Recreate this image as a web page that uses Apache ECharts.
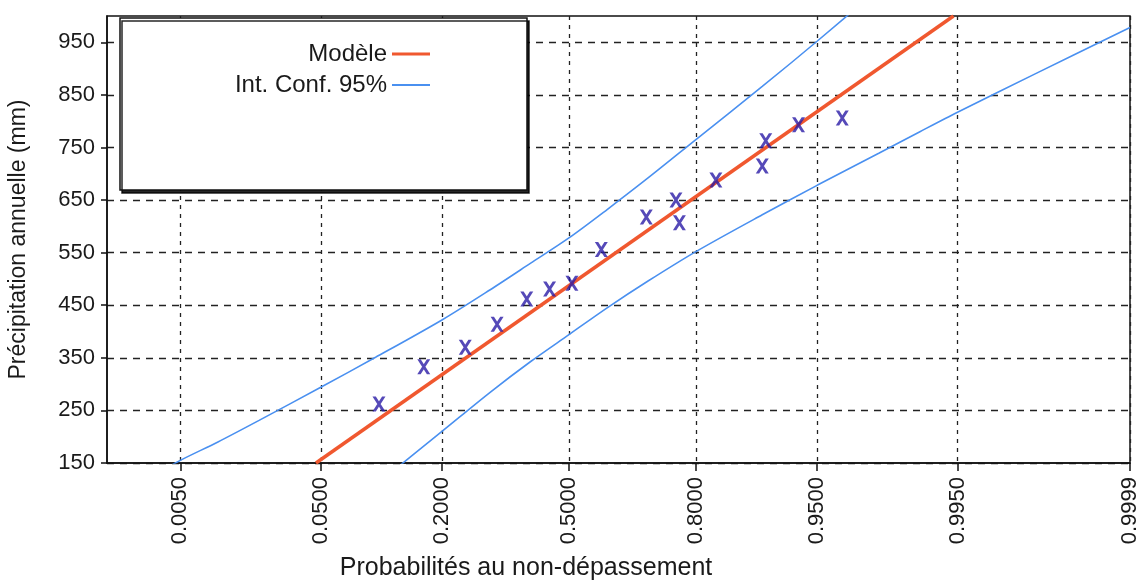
<!DOCTYPE html>
<html>
<head>
<meta charset="utf-8">
<script src="https://cdn.jsdelivr.net/npm/echarts@6/dist/echarts.min.js"></script>
<style>
  html, body { margin: 0; padding: 0; background: #fff; }
  #chart { width: 1140px; height: 581px; }
</style>
</head>
<body>
<div id="chart"></div>
<script>
// probability axis: ticks are non-exceedance probabilities
const probTicks = [0.005, 0.05, 0.2, 0.5, 0.8, 0.95, 0.995, 0.9999]
const probLabels = ['0.0050', '0.0500', '0.2000', '0.5000', '0.8000', '0.9500', '0.9950', '0.9999']
const probMin = 0.0011
const probMax = 0.9999

const yTicks = [150, 250, 350, 450, 550, 650, 750, 850, 950]
const yMin = 150
const yMax = 1000

// observed annual precipitation (mm) with plotting probabilities
const obsProb = [0.104, 0.168, 0.246, 0.317, 0.390, 0.449, 0.508, 0.585, 0.696, 0.761, 0.768, 0.835, 0.900, 0.904, 0.936, 0.965]
const obsVal = [262, 333, 370, 414, 462, 481, 492, 556, 618, 650, 607, 688, 715, 763, 793, 806]

// fitted model (straight line on normal paper)
const modelProb = [0.0468, 0.9946]
const modelVal = [150, 1000]

// 95% confidence bounds
const upperProb = [0.002, 0.005, 0.01, 0.02, 0.05, 0.1, 0.2, 0.3, 0.4, 0.5, 0.6, 0.7, 0.8, 0.9, 0.95, 0.98]
const upperVal = [108, 155, 190, 231, 294, 351, 422, 479, 530, 578, 632, 692, 765, 866, 952, 1052]
const lowerProb = [0.1, 0.2, 0.3, 0.4, 0.5, 0.6, 0.7, 0.8, 0.9, 0.95, 0.98, 0.99, 0.995, 0.999, 0.9999]
const lowerVal = [108, 210, 284, 343, 394, 445, 496, 552, 622, 678, 739, 780, 817, 890, 978]

// inverse standard normal (Acklam) -> reduced variable used as x scale
function normInv(p) {
  const a = [-39.69683028665376, 220.9460984245205, -275.9285104469687, 138.3577518672690, -30.66479806614716, 2.506628277459239]
  const b = [-54.47609879822406, 161.5858368580409, -155.6989798598866, 66.80131188771972, -13.28068155288572]
  const c = [-0.007784894002430293, -0.3223964580411365, -2.400758277161838, -2.549732539343734, 4.374664141464968, 2.938163982698783]
  const d = [0.007784695709041462, 0.3224671290700398, 2.445134137142996, 3.754408661907416]
  const pl = 0.02425
  let q, r
  if (p < pl) {
    q = Math.sqrt(-2 * Math.log(p))
    return (((((c[0] * q + c[1]) * q + c[2]) * q + c[3]) * q + c[4]) * q + c[5]) /
      ((((d[0] * q + d[1]) * q + d[2]) * q + d[3]) * q + 1)
  }
  if (p > 1 - pl) {
    q = Math.sqrt(-2 * Math.log(1 - p))
    return -(((((c[0] * q + c[1]) * q + c[2]) * q + c[3]) * q + c[4]) * q + c[5]) /
      ((((d[0] * q + d[1]) * q + d[2]) * q + d[3]) * q + 1)
  }
  q = p - 0.5
  r = q * q
  return (((((a[0] * r + a[1]) * r + a[2]) * r + a[3]) * r + a[4]) * r + a[5]) * q /
    (((((b[0] * r + b[1]) * r + b[2]) * r + b[3]) * r + b[4]) * r + 1)
}

const uTicks = probTicks.map(normInv)
const toPts = (ps, vs) => ps.map((p, i) => [normInv(p), vs[i]])

const font = 'Arial, "Liberation Sans", sans-serif'
const ink = '#1a1a1a'
const red = '#f0582f'
const blue = '#4a90f0'

const chart = echarts.init(document.getElementById('chart'))

chart.setOption({
  backgroundColor: '#fff',
  animation: false,
  grid: {
    left: 107, right: 10, top: 16, bottom: 118,
    show: true, borderColor: '#111', borderWidth: 1.5,
    outerBoundsMode: 'none'
  },
  legend: [
    {
      data: ['Modèle'], right: 705, top: 37, align: 'right',
      icon: 'rect', itemWidth: 38, itemHeight: 3, selectedMode: false, z: 10,
      textStyle: { fontFamily: font, fontSize: 24, color: ink }
    },
    {
      data: ['Int. Conf. 95%'], right: 705, top: 68, align: 'right',
      icon: 'rect', itemWidth: 38, itemHeight: 2, selectedMode: false, z: 10,
      textStyle: { fontFamily: font, fontSize: 24, color: ink }
    }
  ],
  graphic: [
    {
      type: 'rect', z: 5,
      shape: { x: 120, y: 18, width: 407, height: 172 },
      style: {
        fill: '#fff', stroke: '#111', lineWidth: 1.5,
        shadowColor: 'rgba(0,0,0,0.85)', shadowOffsetX: 2, shadowOffsetY: 3, shadowBlur: 0
      }
    },
    {
      type: 'text', z: 5, x: 526, y: 568,
      style: {
        text: 'Probabilités au non-dépassement', fill: ink,
        font: '25px ' + font, textAlign: 'center', textVerticalAlign: 'middle'
      }
    }
  ],
  xAxis: {
    type: 'value',
    min: normInv(probMin),
    max: normInv(probMax),
    axisLine: { show: true, onZero: false, lineStyle: { color: '#111', width: 1.5 } },
    axisTick: { show: true, customValues: uTicks, length: 8, lineStyle: { color: '#111', width: 1.5 } },
    axisLabel: {
      customValues: uTicks, rotate: 90, margin: 14,
      fontFamily: font, fontSize: 22, color: ink,
      formatter: v => {
        const i = uTicks.findIndex(t => Math.abs(t - v) < 1e-6)
        return i >= 0 ? probLabels[i] : ''
      }
    },
    splitLine: { show: true, lineStyle: { color: '#222', width: 1.3, type: [4, 5] } }
  },
  yAxis: {
    type: 'value',
    min: yMin,
    max: yMax,
    name: 'Précipitation annuelle (mm)',
    nameLocation: 'middle',
    nameGap: 77,
    nameTextStyle: { fontFamily: font, fontSize: 23, color: ink },
    axisLine: { show: true, onZero: false, lineStyle: { color: '#111', width: 1.5 } },
    axisTick: { show: true, customValues: yTicks, length: 6, lineStyle: { color: '#111', width: 1.5 } },
    axisLabel: { customValues: yTicks, margin: 12, fontFamily: font, fontSize: 22, color: ink },
    splitLine: { show: true, lineStyle: { color: '#222', width: 1.3, type: [7, 6] } }
  },
  series: [
    {
      name: 'Int. Conf. 95%', type: 'line', data: toPts(upperProb, upperVal),
      showSymbol: false, smooth: 0.3, clip: true,
      lineStyle: { color: blue, width: 1.6 }, itemStyle: { color: blue }, z: 3
    },
    {
      name: 'Int. Conf. 95%', type: 'line', data: toPts(lowerProb, lowerVal),
      showSymbol: false, smooth: 0.3, clip: true,
      lineStyle: { color: blue, width: 1.6 }, itemStyle: { color: blue }, z: 3
    },
    {
      name: 'Modèle', type: 'line', data: toPts(modelProb, modelVal),
      showSymbol: false, clip: true,
      lineStyle: { color: red, width: 3.5 }, itemStyle: { color: red }, z: 3
    },
    {
      name: 'Observations', type: 'scatter', data: toPts(obsProb, obsVal),
      symbol: 'path://M0,0 L2.6,0 L10,10 L7.4,10 Z M7.4,0 L10,0 L2.6,10 L0,10 Z',
      symbolSize: [13, 15],
      itemStyle: { color: '#2a1ca6' }, z: 4
    }
  ]
})
</script>
</body>
</html>
